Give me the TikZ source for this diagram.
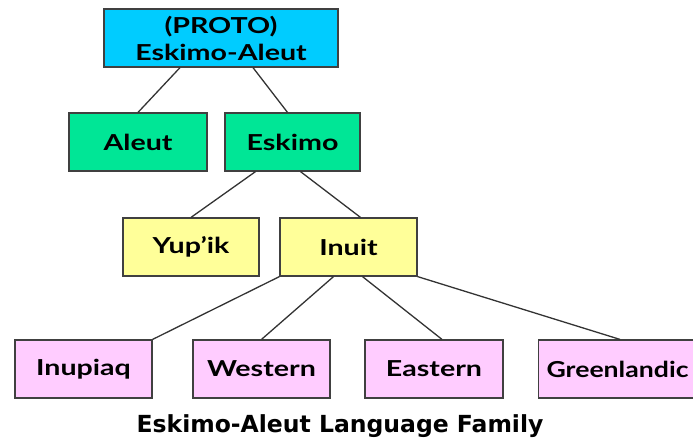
\documentclass[tikz,border=0pt]{standalone}
\usepackage{fontspec}
\setmainfont{Lato}
\newfontfamily\captionfont{DejaVu Sans}
\definecolor{protoblue}{RGB}{0,204,255}
\definecolor{branchgreen}{RGB}{0,230,150}
\definecolor{groupyellow}{RGB}{255,255,153}
\definecolor{langpink}{RGB}{255,204,255}
\newcommand\widelabel[1]{\scalebox{1.3}[1]{#1}}
\begin{document}
\begin{tikzpicture}[x=1pt,y=-1pt,
    box/.style={draw=black!75,line width=1.2pt,minimum height=58pt,inner sep=0pt,
      font=\fontsize{22}{27}\selectfont\bfseries},
    link/.style={draw=black!80,line width=1.3pt}]
  \useasboundingbox (0,0) rectangle (693,445);
  \clip (0,0) rectangle (693,445);
  % top of the family
  \node[box,fill=protoblue,minimum width=234pt,align=center] (proto) at (221,38) {\widelabel{(PROTO)}\\\widelabel{Eskimo-Aleut}};
  \node[box,fill=branchgreen,minimum width=138pt] (aleut) at (138,142) {\widelabel{Aleut}};
  \node[box,fill=branchgreen,minimum width=135pt] (eskimo) at (292.5,142) {\widelabel{Eskimo}};
  \node[box,fill=groupyellow,minimum width=136pt] (yupik) at (191,247) {\widelabel{Yup’ik}};
  \node[box,fill=groupyellow,minimum width=137pt] (inuit) at (348.5,247) {\widelabel{Inuit}};
  % inuit languages
  \node[box,fill=langpink,minimum width=137pt] (inupiaq) at (83.5,369) {\widelabel{Inupiaq}};
  \node[box,fill=langpink,minimum width=137pt] (western) at (261.5,369) {\widelabel{Western}};
  \node[box,fill=langpink,minimum width=138pt] (eastern) at (434,369) {\widelabel{Eastern}};
  \node[box,fill=langpink,anchor=west] (greenlandic) at (538,369) {\makebox[165pt][l]{\hspace{8pt}\scalebox{1.21}[1]{Greenlandic}}};
  \draw[link] ([xshift=-41pt]proto.south) -- (aleut.north);
  \draw[link] ([xshift=32pt]proto.south) -- ([xshift=-5pt]eskimo.north);
  \draw[link] ([xshift=-37pt]eskimo.south) -- (yupik.north);
  \draw[link] ([xshift=8pt]eskimo.south) -- ([xshift=12pt]inuit.north);
  \draw[link] (inuit.south west) -- (inupiaq.north east);
  \draw[link] ([xshift=-15pt]inuit.south) -- (western.north);
  \draw[link] ([xshift=14pt]inuit.south) -- ([xshift=8pt]eastern.north);
  \draw[link] (inuit.south east) -- ([xshift=82pt]greenlandic.north west);
  \node[font=\captionfont\fontsize{23.5}{26}\selectfont\bfseries] (caption) at (340,426) {Eskimo-Aleut Language Family};
\end{tikzpicture}
\end{document}
